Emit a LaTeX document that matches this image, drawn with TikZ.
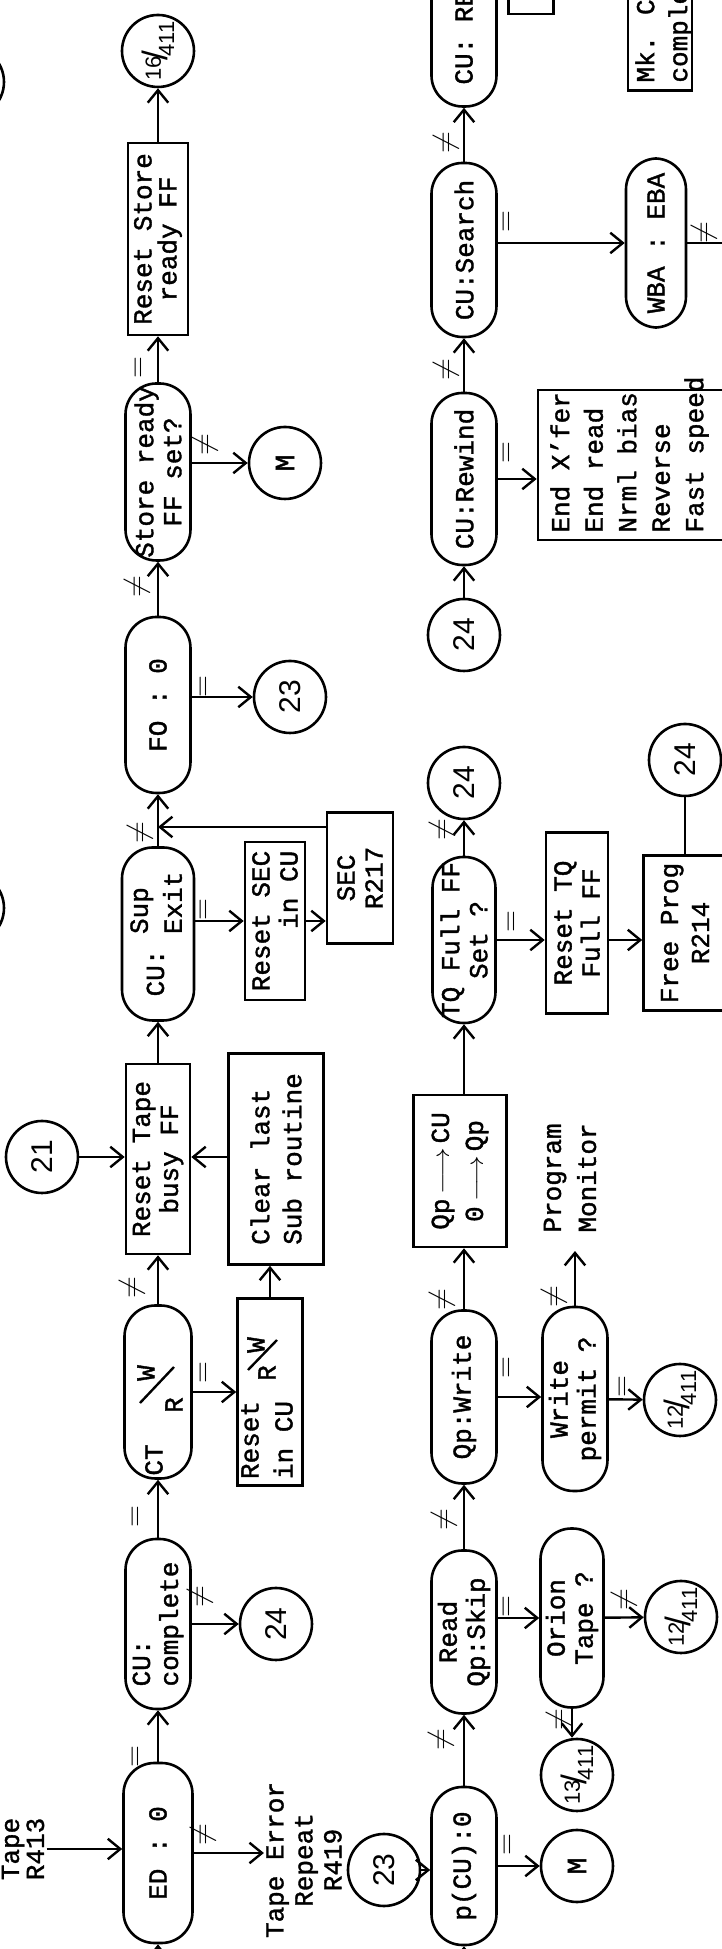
\documentclass[tikz,border=0pt]{standalone}
\usepackage{fontspec}
\setmainfont{Liberation Mono}[FakeBold=1.4, AutoFakeBold=1.4]
\newfontfamily\sanf{Liberation Sans}
\usepackage{graphicx}
\usetikzlibrary{arrows.meta, positioning, calc}

\newcommand{\ofr}[2]{{\fontsize{11}{11}\selectfont\raisebox{0.55ex}{#1}\kern-0.2em\scalebox{1.6}{/}\kern-0.25em\raisebox{-0.6ex}{#2}}}

\begin{document}
\begin{tikzpicture}[x=0.5pt, y=0.5pt, rotate=90, transform shape,
    every node/.style={font=\bfseries\fontsize{13}{14}\selectfont},
    stad/.style={rectangle, rounded corners=15.5pt, draw, line width=1.3pt,
                 minimum height=32.5pt, inner xsep=0pt, inner ysep=1pt, align=center},
    box/.style={rectangle, draw, line width=1.3pt, inner sep=3pt, align=center},
    conn/.style={circle, draw, line width=1.3pt, minimum size=36pt, inner sep=0pt,
                 font=\sanf\fontsize{15}{15}\selectfont},
    txt/.style={inner sep=1pt, align=center},
    lab/.style={inner sep=0pt, font=\fontsize{14}{14}\selectfont},
    arr/.style={-{Straight Barb[length=2.2mm, width=3.6mm]}, line width=1.2pt},
    lin/.style={line width=1.2pt}
  ]
  \useasboundingbox (0,0) rectangle (1949,722);

  \node[txt, font=\bfseries\fontsize{13}{12.5}\selectfont] (tape) at (100,699) {Tape\\R413};
  \node[stad, minimum width=90pt, minimum height=34.5pt] (ed) at (96,564) {ED : 0};
  \node[stad, minimum width=85pt, align=left] (cuc) at (325,564) {CU:\\complete};
  \node[stad, minimum width=86.5pt, minimum height=33.5pt] (ctvr) at (557,564) {};
  \node[txt] (ctT) at (489,568) {CT};
  \node[txt] (ctR) at (544,548) {R};
  \node[txt] (ctW) at (576,576) {W};
  \draw[lin] (546,582) -- (582,548);
  \node[box, minimum width=95pt, minimum height=32pt] (rtb) at (790,564) {Reset Tape\\busy FF};
  \node[stad, minimum width=86.5pt, minimum height=31.5pt, font=\bfseries\fontsize{13}{17}\selectfont] (cusup) at (1015,564)
    {CU: \begin{tabular}{@{}l@{}}Sup\\Exit\end{tabular}};
  \node[stad, minimum width=88pt] (fo) at (1244,564) {FO : 0};
  \node[stad, minimum width=88.5pt] (store) at (1477,564) {Store ready\\FF set?};
  \node[box, minimum width=96pt, minimum height=29pt, font=\bfseries\fontsize{13}{12.5}\selectfont] (rstore) at (1710,564) {Reset Store\\ready FF};
  \node[conn] (c16) at (1898,564) {\ofr{16}{411}};
  \node[conn] (offA) at (1867,754) {};
  \node[conn] (offB) at (1041,754) {};

  \node[conn] (c24a) at (325,446) {24};
  \node[box, minimum width=93.5pt, minimum height=32.5pt] (rincu) at (557,452) {};
  \node[txt, align=left, font=\bfseries\fontsize{13}{17}\selectfont] (rinT) at (509,455) {Reset\\in CU};
  \node[txt] (rinR) at (576,455) {R};
  \node[txt] (rinW) at (604,466) {W};
  \draw[lin] (579,474) -- (609,445);
  \node[box, minimum width=105.5pt, minimum height=47.5pt, align=left, font=\bfseries\fontsize{13}{16}\selectfont] (clear) at (790,446) {Clear last\\Sub routine};
  \node[conn] (c21) at (792,680) {21};
  \node[box, minimum width=79pt, minimum height=30pt, align=right] (rsec) at (1028,447) {Reset SEC\\in CU};
  \node[box, minimum width=65.5pt, minimum height=33pt] (sec) at (1071,362) {SEC\\R217};
  \coordinate (merge) at (1122,564);
  \node[conn] (c23a) at (1252,432) {23};
  \node[conn, font=\bfseries\fontsize{14}{14}\selectfont] (mA) at (1486,437) {M};

  \node[stad, minimum width=79pt] (pcu) at (83,258) {p(CU):0};
  \node[stad, minimum width=81.5pt] (rqs) at (317,258) {Read\\Qp:Skip};
  \node[stad, minimum width=86.5pt] (qpw) at (552,258) {Qp:Write};
  \node[box, minimum width=76pt, minimum height=46.5pt, font=\bfseries\fontsize{13}{17}\selectfont] (qpbox) at (778,262)
    {Qp\,\scalebox{1.2}[1]{$\longrightarrow$}\,CU\\0\,\scalebox{1.2}[1]{$\longrightarrow$}\,Qp};
  \node[stad, minimum width=83pt, minimum height=31.5pt] (tq) at (1009,258) {TQ Full FF\\Set ?};
  \node[conn] (c24b) at (1166,258) {24};
  \node[conn] (c24d) at (1314,258) {24};
  \node[stad, minimum width=86pt] (rewind) at (1470,258) {CU:Rewind};
  \node[stad, minimum width=87pt] (search) at (1699,258) {CU:Search};
  \node[stad, minimum width=83.5pt] (cure) at (1926,258) {};
  \node[txt, anchor=west] (cureT) at (1862,258) {CU: RE};
  \node[box, minimum width=30pt, minimum height=22.5pt] (cubox) at (1965,191) {};

  \node[conn, font=\bfseries\fontsize{14}{14}\selectfont] (mB) at (83,145) {M};
  \node[conn] (c13) at (174,145) {\ofr{13}{411}};
  \node[stad, minimum width=89.5pt, minimum height=31.5pt] (orion) at (331,150) {Orion\\Tape ?};
  \node[conn] (c12a) at (332,41) {\ofr{12}{411}};
  \node[stad, minimum width=92pt] (wperm) at (550,147) {Write\\permit ?};
  \node[conn] (c12b) at (549,42) {\ofr{12}{411}};
  \node[txt, align=left, font=\bfseries\fontsize{13}{17.5}\selectfont] (progmon) at (771,152) {Program\\Monitor};
  \node[box, minimum width=90.5pt, minimum height=31pt] (rtq) at (1026,145) {Reset TQ\\Full FF};
  \node[box, minimum width=77.5pt, minimum height=41.5pt, font=\bfseries\fontsize{13}{15.5}\selectfont] (fprog) at (1016,37) {Free Prog\\R214};
  \node[conn] (c24c) at (1189,37) {24};
  \node[box, minimum width=75pt, minimum height=107pt] (endx) at (1484,77) {};
  \node[txt, anchor=north west, align=left, font=\bfseries\fontsize{13}{16.75}\selectfont] (endxT) at (1414,174)
    {End X\char39{}fer\\End read\\Nrml bias\\Reverse\\Fast speed};
  \node[stad, minimum width=84.5pt, minimum height=30pt] (wba) at (1706,66) {WBA : EBA};
  \coordinate (wbaout) at (1711,-30);
  \node[box, minimum width=70.5pt, minimum height=32pt] (mkc) at (1929,62) {};
  \node[txt, anchor=west, align=left, font=\bfseries\fontsize{13}{16.5}\selectfont] (mkcT) at (1864,58) {Mk. C\\comple};

  \node[txt, font=\bfseries\fontsize{13}{14.5}\selectfont] (terr) at (89,418) {Tape Error\\Repeat\\R419};
  \node[conn] (c23b) at (79,338) {23};

  \coordinate (inE) at (-40,564);
  \coordinate (inP) at (-40,258);

  \draw[arr] (inE) -- (ed);
  \draw[arr] (inP) -- (pcu);
  \draw[arr] (tape) -- (tape |- ed.north);
  \draw[arr] (ed.south) -- (ed.south |- terr.north);
  \draw[arr] (ed) -- (cuc);
  \draw[arr] (cuc) -- (c24a);
  \draw[arr] (cuc) -- (ctvr);
  \draw[arr] (ctvr) -- (rtb);
  \draw[arr] (ctvr) -- (rincu);
  \draw[arr] (rincu.east) -- (rincu.east -| clear.west);
  \draw[arr] (clear.north -| c21) -- (c21 |- rtb.south);
  \draw[arr] (c21) -- (c21 |- rtb.north);
  \draw[arr] (rtb) -- (cusup);
  \draw[arr] (cusup) -- (fo);
  \draw[arr] (cusup.south -| rsec.north) -- (rsec.north);
  \draw[arr] (rsec.south) -- (rsec.south |- sec.north);
  \draw[arr] (sec.north -| merge) -- (merge);
  \draw[arr] (fo.south -| c23a) -- (c23a);
  \draw[arr] (fo) -- (store);
  \draw[arr] (store.south -| mA) -- (mA);
  \draw[arr] (store) -- (rstore);
  \draw[arr] (rstore) -- (c16);

  \draw[arr] (c23b) -- (c23b |- pcu.north);
  \draw[arr] (pcu) -- (mB);
  \draw[arr] (pcu) -- (rqs);
  \draw[arr] (rqs.south -| orion) -- (orion);
  \draw[arr] (orion) -- (c12a);
  \draw[arr] (orion.west) -- (orion.west -| c13.east);
  \draw[arr] (rqs) -- (qpw);
  \draw[arr] (qpw.south) -- (qpw.south |- wperm.north);
  \draw[arr] (wperm) -- (c12b);
  \draw[arr, shorten >=8pt] (wperm.east) -- (wperm.east -| progmon.west);
  \draw[arr] (qpw.east) -- (qpw.east -| qpbox.west);
  \draw[arr] (qpbox.east |- tq) -- (tq);
  \draw[arr] (tq) -- (c24b);
  \draw[arr] (tq.south) -- (tq.south |- rtq.north);
  \draw[arr] (rtq.south -| tq.south) -- (tq.south |- fprog.north);
  \draw[lin] (fprog.east) -- (c24c);
  \draw[arr] (c24d) -- (rewind);
  \draw[arr] (rewind.south) -- (rewind.south |- endx.north);
  \draw[arr] (rewind) -- (search);
  \draw[arr] (search.south -| wba) -- (wba);
  \draw[lin] (wba.south) -- (wba.south |- wbaout);
  \draw[arr] (search) -- (cure);

  \node[lab] (l1) at (192,585) {$=$};
  \node[lab] (l2) at (114,519) {$\neq$};
  \node[lab] (l3) at (352,522) {$\neq$};
  \node[lab] (l4) at (432,585) {$=$};
  \node[lab] (l5) at (661,590) {$\neq$};
  \node[lab] (l6) at (576,517) {$=$};
  \node[lab] (l7) at (1116,582) {$\neq$};
  \node[lab] (l8) at (1039,517) {$=$};
  \node[lab] (l9) at (1362,585) {$\neq$};
  \node[lab] (l10) at (1262,517) {$=$};
  \node[lab] (l11) at (1581,582) {$=$};
  \node[lab] (l12) at (1504,517) {$\neq$};
  \node[lab] (l13) at (209,281) {$\neq$};
  \node[lab] (l14) at (104,213) {$=$};
  \node[lab] (l15) at (429,278) {$\neq$};
  \node[lab] (l16) at (342,214) {$=$};
  \node[lab] (l17) at (349,98) {$\neq$};
  \node[lab] (l18) at (229,163) {$\neq$};
  \node[lab] (l19) at (649,280) {$\neq$};
  \node[lab] (l20) at (581,214) {$=$};
  \node[lab] (l21) at (562,98) {$=$};
  \node[lab] (l22) at (652,168) {$\neq$};
  \node[lab] (l23) at (1119,280) {$\neq$};
  \node[lab] (l24) at (1027,209) {$=$};
  \node[lab] (l25) at (1496,214) {$=$};
  \node[lab] (l26) at (1579,276) {$\neq$};
  \node[lab] (l27) at (1727,214) {$=$};
  \node[lab] (l28) at (1806,276) {$\neq$};
  \node[lab] (l29) at (1716,18) {$\neq$};
\end{tikzpicture}
\end{document}
